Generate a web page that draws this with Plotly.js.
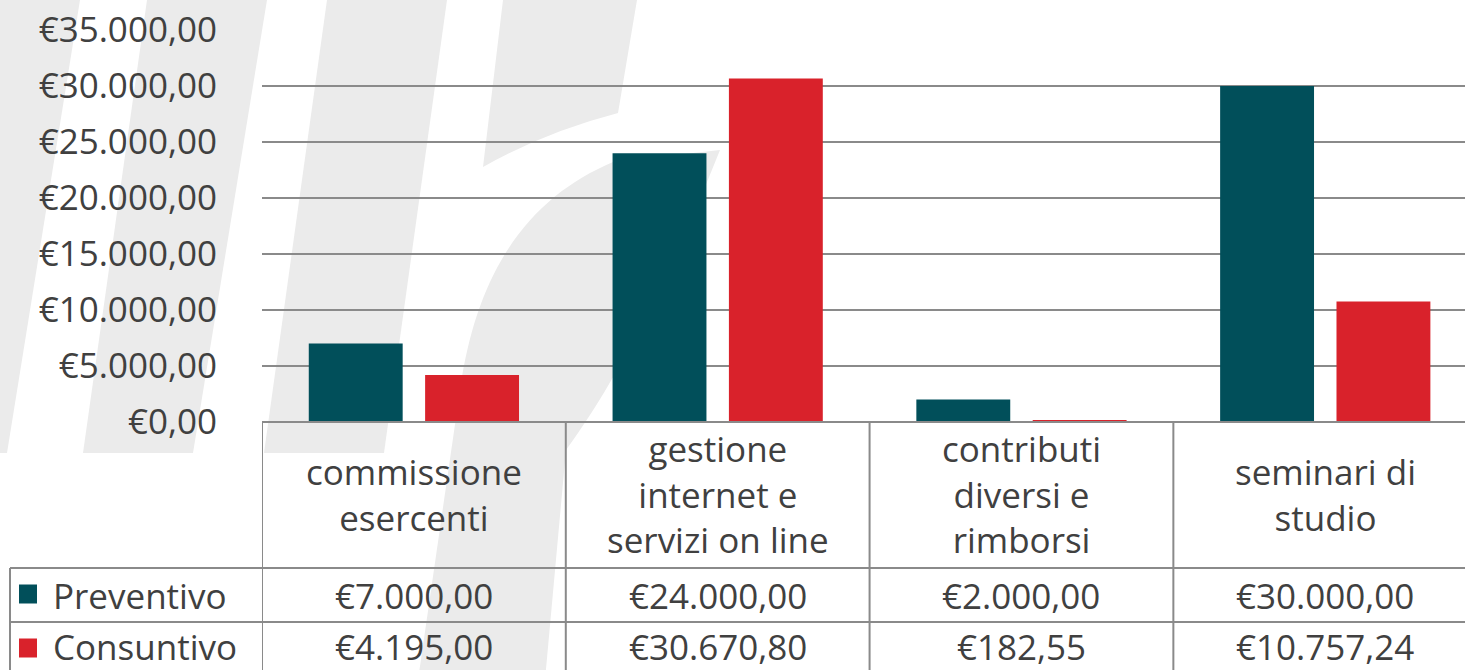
<!DOCTYPE html>
<html><head><meta charset="utf-8">
<script src="https://cdn.plot.ly/plotly-3.0.1.min.js"></script>
<style>html,body{margin:0;padding:0;background:#fff;overflow:hidden}</style>
</head><body><div id="chart" style="width:1465px;height:670px"></div>
<script>
// ---- data ----
const categories = ['commissione esercenti', 'gestione internet e servizi on line', 'contributi diversi e rimborsi', 'seminari di studio'];
const categoryLabels = ['commissione<br>esercenti', 'gestione<br>internet e<br>servizi on line', 'contributi<br>diversi e<br>rimborsi', 'seminari di<br>studio'];
const seriesNames = ['Preventivo', 'Consuntivo'];
const preventivo = [7000.00, 24000.00, 2000.00, 30000.00];
const consuntivo = [4195.00, 30670.80, 182.55, 10757.24];
const yTicks = [0, 5000, 10000, 15000, 20000, 25000, 30000, 35000];

// ---- styles ----
const TEAL = '#014f5a';
const RED = '#d9222b';
const TEXT = '#404040';
const LINE = '#8a8a8a';
const WM = '#ebebeb';
const FONT = 'Open Sans, Lato, sans-serif';

const W = 1465, H = 670, L = 262, T = 30, PW = 1203, PH = 392;
const px = x => (x - L) / PW;
const py = y => (T + PH - y) / PH;

function euro(v) {
  const s = v.toFixed(2).split('.');
  const intp = s[0].replace(/\B(?=(\d{3})+(?!\d))/g, '.');
  return '€' + intp + ',' + s[1];
}

function path(segs) {
  return segs.map(s => {
    const cmd = s[0];
    const pts = s.slice(1).map(p => px(p[0]).toFixed(5) + ',' + py(p[1]).toFixed(5));
    return cmd + pts.join(' ');
  }).join(' ');
}

// watermark (decorative background logo)
const wmPaths = [
  [['M', [-80, 0]], ['L', [80, 0]], ['L', [7, 453]], ['L', [-150, 453]], ['Z']],
  [['M', [147, 0]], ['L', [267, 0]], ['L', [193, 453]], ['L', [83, 453]], ['Z']],
  [['M', [327, 0]], ['L', [447, 0]], ['L', [384, 453]], ['L', [264, 453]], ['Z']],
  [['M', [503, 0]], ['L', [637, 0]], ['L', [618, 113]], ['Q', [545, 132], [483, 167]], ['Z']],
  [['M', [720, 150]], ['L', [613, 162]], ['C', [535, 195], [478, 262], [460, 390]], ['L', [418, 680]],
   ['L', [545, 680]], ['L', [566, 450]], ['C', [610, 390], [660, 300], [720, 150]], ['Z']]
];

const shapes = [];
wmPaths.forEach(p => shapes.push({type: 'path', xref: 'paper', yref: 'paper', path: path(p),
  fillcolor: WM, line: {width: 0}, layer: 'below'}));

// table lines
const lineStyle = {color: LINE, width: 2};
shapes.push({type: 'line', xref: 'paper', yref: 'paper', x0: 0, x1: 1.02, y0: py(422), y1: py(422), line: lineStyle});
shapes.push({type: 'line', xref: 'paper', yref: 'paper', x0: px(10), x1: 1.02, y0: py(568), y1: py(568), line: lineStyle});
shapes.push({type: 'line', xref: 'paper', yref: 'paper', x0: px(10), x1: 1.02, y0: py(622), y1: py(622), line: lineStyle});
shapes.push({type: 'line', xref: 'paper', yref: 'paper', x0: px(10), x1: px(10), y0: py(568), y1: py(690), line: lineStyle});
for (let i = 0; i <= categories.length; i++) {
  shapes.push({type: 'line', xref: 'x', yref: 'paper', x0: i - 0.5, x1: i - 0.5, y0: py(422), y1: py(690), line: lineStyle});
}
// legend keys in the data table
[TEAL, RED].forEach((c, k) => {
  const yc = k === 0 ? 594 : 648;
  shapes.push({type: 'rect', xref: 'paper', yref: 'paper', x0: px(19), x1: px(37), y0: py(yc - 9.5), y1: py(yc + 9.5),
    fillcolor: c, line: {width: 0}});
});

const annotations = [];
categories.forEach((c, i) => {
  annotations.push({xref: 'x', yref: 'paper', x: c, y: py(494), text: categoryLabels[i], showarrow: false,
    xanchor: 'center', yanchor: 'middle', align: 'center', font: {family: FONT, size: 35, color: TEXT}});
});
[preventivo, consuntivo].forEach((arr, k) => {
  const yc = k === 0 ? 595 : 646;
  annotations.push({xref: 'paper', yref: 'paper', x: px(51), y: py(yc), text: seriesNames[k], showarrow: false,
    xanchor: 'left', yanchor: 'middle', font: {family: FONT, size: 35, color: TEXT}});
  arr.forEach((v, i) => {
    annotations.push({xref: 'x', yref: 'paper', x: categories[i], y: py(yc), text: euro(v), showarrow: false,
      xanchor: 'center', yanchor: 'middle', font: {family: FONT, size: 35, color: TEXT}});
  });
});

const data = [
  {type: 'bar', name: seriesNames[0], x: categories, y: preventivo, marker: {color: TEAL, line: {width: 0}}, hoverinfo: 'none'},
  {type: 'bar', name: seriesNames[1], x: categories, y: consuntivo, marker: {color: RED, line: {width: 0}}, hoverinfo: 'none'}
];

const layout = {
  width: W, height: H,
  margin: {l: L, r: W - L - PW, t: T, b: H - T - PH, pad: 0},
  paper_bgcolor: '#ffffff', plot_bgcolor: 'rgba(0,0,0,0)',
  showlegend: false,
  barmode: 'group', bargap: 0.234, bargroupgap: 0.193,
  font: {family: FONT, color: TEXT},
  xaxis: {type: 'category', range: [-0.5, 3.46], showgrid: false, showticklabels: false, ticks: '',
    zeroline: false, showline: false, fixedrange: true},
  yaxis: {range: [0, 35000], tickmode: 'array', tickvals: yTicks, ticktext: yTicks.map(euro), ticks: '',
    showgrid: true, gridcolor: LINE, gridwidth: 2, zeroline: false, showline: false,
    ticklabelstandoff: 44, tickfont: {family: FONT, size: 35, color: TEXT}, fixedrange: true},
  shapes: shapes,
  annotations: annotations
};

Plotly.newPlot('chart', data, layout, {displayModeBar: false, staticPlot: true});
</script>
</body></html>
